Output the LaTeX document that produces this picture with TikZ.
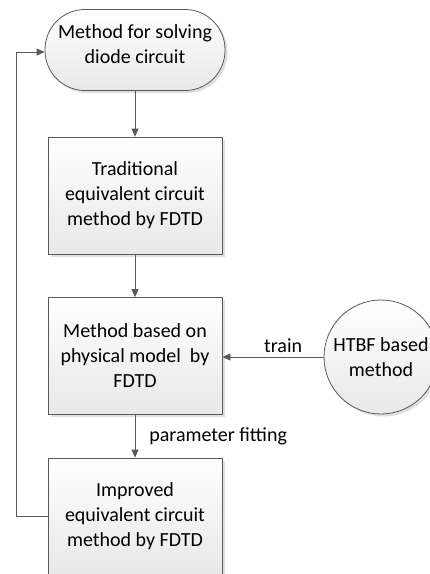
\documentclass[tikz,border=0pt]{standalone}
\usepackage{fontspec}
\setmainfont{Carlito}
\usetikzlibrary{arrows.meta,shadows}
\definecolor{edgegray}{HTML}{595959}
\definecolor{fillgray}{HTML}{E8E8E8}
\begin{document}
\begin{tikzpicture}[x=1pt,y=-1pt,
  txt/.style={font=\fontsize{20}{25}\selectfont, text=black},
  shade/.style={top color=white, bottom color=fillgray, draw=edgegray, line width=0.8pt},
  shadowed/.style={drop shadow={shadow xshift=2.5pt, shadow yshift=-2.5pt, opacity=0.25, fill=gray}},
  terminal/.style={shade, shadowed, rectangle, rounded corners=40pt, minimum width=180pt, minimum height=81pt, inner sep=0pt},
  procbox/.style={shade, shadowed, txt, rectangle, minimum width=174pt, minimum height=117pt, align=center, inner sep=0pt},
  roundnode/.style={shade, shadowed, txt, circle, minimum size=114pt, align=center, inner sep=0pt},
  flow/.style={draw=edgegray, line width=0.8pt, -{Triangle[length=8pt,width=7pt]}},
  lbl/.style={txt, inner sep=2pt}
]
\useasboundingbox (0,0) rectangle (430,574);
\begin{scope}
\clip (0,0) rectangle (430,574);

\node[terminal] (start) at (135,50) {};
\node[txt, align=center, inner sep=0pt] (starttext) at (135,44.5) {Method for solving\\diode circuit};
\node[procbox] (trad) at (135,195.5) {Traditional\\equivalent circuit\\method by FDTD};
\node[procbox] (phys) at (135,356) {Method based on\\physical model\ \ by\\FDTD};
\node[procbox] (impr) at (135,516.5) {Improved\\equivalent circuit\\method by FDTD};
\node[roundnode] (htbf) at (381,357) {HTBF based\\method};

\coordinate (loopbot) at (16,516.5);
\coordinate (looptop) at (16,52);

\draw[flow] (start) -- (trad);
\draw[flow] (trad) -- (phys);
\draw[flow] (phys) -- node[lbl, right=12pt, pos=0.5] {parameter fitting} (impr);
\draw[flow] (htbf.west) -- node[lbl, above=2pt, pos=0.4] {train} (phys.east |- htbf.west);
\draw[flow] (impr.west) -- (loopbot) -- (looptop) -- (start.west |- looptop);
\end{scope}
\end{tikzpicture}
\end{document}
